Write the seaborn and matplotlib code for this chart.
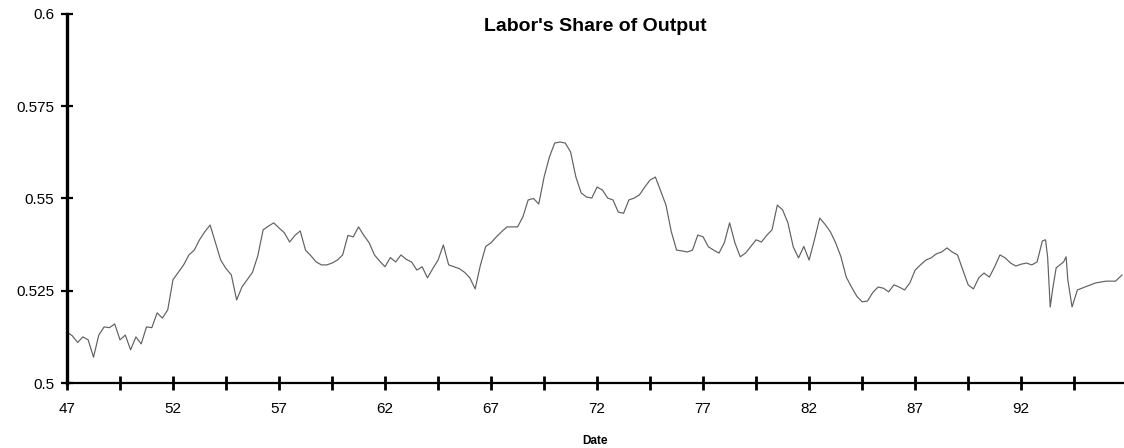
import numpy as np
import pandas as pd
import matplotlib
matplotlib.use("Agg")
import matplotlib.pyplot as plt
import seaborn as sns

# dane (rok w zapisie dziesietnym, udzial pracy w produkcie)
daty = [
    47.00, 47.25, 47.50, 47.75, 48.00, 48.25, 48.50, 48.75, 49.00, 49.25, 49.50, 49.75,
    50.00, 50.25, 50.50, 50.75, 51.00, 51.25, 51.50, 51.75, 52.00, 52.25, 52.50, 52.75,
    53.00, 53.25, 53.50, 53.75, 54.00, 54.25, 54.50, 54.75, 55.00, 55.25, 55.50, 55.75,
    56.00, 56.25, 56.50, 56.75, 57.00, 57.25, 57.50, 57.75, 58.00, 58.25, 58.50, 58.75,
    59.00, 59.25, 59.50, 59.75, 60.00, 60.25, 60.50, 60.75, 61.00, 61.25, 61.50, 61.75,
    62.00, 62.25, 62.50, 62.75, 63.00, 63.25, 63.50, 63.75, 64.00, 64.25, 64.50, 64.75,
    65.00, 65.25, 65.50, 65.75, 66.00, 66.25, 66.50, 66.75, 67.00, 67.25, 67.50, 67.75,
    68.00, 68.25, 68.50, 68.75, 69.00, 69.25, 69.50, 69.75, 70.00, 70.25, 70.50, 70.75,
    71.00, 71.25, 71.50, 71.75, 72.00, 72.25, 72.50, 72.75, 73.00, 73.25, 73.50, 73.75,
    74.00, 74.25, 74.50, 74.75, 75.00, 75.25, 75.50, 75.75, 76.00, 76.25, 76.50, 76.75,
    77.00, 77.25, 77.50, 77.75, 78.00, 78.25, 78.50, 78.75, 79.00, 79.25, 79.50, 79.75,
    80.00, 80.25, 80.50, 80.75, 81.00, 81.25, 81.50, 81.75, 82.00, 82.25, 82.50, 82.75,
    83.00, 83.25, 83.50, 83.75, 84.00, 84.25, 84.50, 84.75, 85.00, 85.25, 85.50, 85.75,
    86.00, 86.25, 86.50, 86.75, 87.00, 87.25, 87.50, 87.75, 88.00, 88.25, 88.50, 88.75,
    89.00, 89.25, 89.50, 89.75, 90.00, 90.25, 90.50, 90.75, 91.00, 91.25, 91.50, 91.75,
    92.00, 92.25, 92.50, 92.75, 93.00, 93.15, 93.25, 93.37, 93.50, 93.65, 94.00, 94.12,
    94.20, 94.40, 94.65, 95.00, 95.50, 96.00, 96.45, 96.76,
]
udzial = [
    0.5138, 0.5128, 0.5110, 0.5125, 0.5117, 0.5070, 0.5130, 0.5152, 0.5150, 0.5160, 0.5117, 0.5130,
    0.5090, 0.5125, 0.5106, 0.5152, 0.5150, 0.5190, 0.5176, 0.5198, 0.5280, 0.5300, 0.5320, 0.5347,
    0.5360, 0.5388, 0.5410, 0.5428, 0.5380, 0.5333, 0.5310, 0.5293, 0.5225, 0.5260, 0.5280, 0.5300,
    0.5345, 0.5415, 0.5425, 0.5434, 0.5420, 0.5407, 0.5382, 0.5400, 0.5412, 0.5360, 0.5345, 0.5328,
    0.5320, 0.5320, 0.5325, 0.5333, 0.5347, 0.5400, 0.5396, 0.5423, 0.5400, 0.5380, 0.5347, 0.5330,
    0.5315, 0.5340, 0.5328, 0.5347, 0.5335, 0.5328, 0.5306, 0.5315, 0.5285, 0.5310, 0.5333, 0.5374,
    0.5320, 0.5315, 0.5310, 0.5300, 0.5285, 0.5255, 0.5320, 0.5370, 0.5380, 0.5396, 0.5410, 0.5423,
    0.5423, 0.5423, 0.5450, 0.5496, 0.5500, 0.5485, 0.5558, 0.5612, 0.5650, 0.5653, 0.5650, 0.5626,
    0.5558, 0.5515, 0.5504, 0.5501, 0.5531, 0.5523, 0.5501, 0.5496, 0.5463, 0.5460, 0.5496, 0.5501,
    0.5510, 0.5531, 0.5550, 0.5558, 0.5520, 0.5482, 0.5410, 0.5360, 0.5358, 0.5355, 0.5360, 0.5401,
    0.5396, 0.5369, 0.5360, 0.5352, 0.5380, 0.5434, 0.5380, 0.5342, 0.5352, 0.5370, 0.5388, 0.5382,
    0.5400, 0.5415, 0.5482, 0.5469, 0.5434, 0.5369, 0.5339, 0.5370, 0.5333, 0.5388, 0.5447, 0.5430,
    0.5410, 0.5380, 0.5342, 0.5287, 0.5260, 0.5235, 0.5220, 0.5222, 0.5245, 0.5260, 0.5257, 0.5247,
    0.5266, 0.5260, 0.5252, 0.5271, 0.5306, 0.5320, 0.5333, 0.5339, 0.5350, 0.5355, 0.5366, 0.5355,
    0.5347, 0.5306, 0.5266, 0.5255, 0.5285, 0.5298, 0.5287, 0.5315, 0.5347, 0.5339, 0.5325, 0.5317,
    0.5322, 0.5325, 0.5320, 0.5328, 0.5385, 0.5388, 0.5340, 0.5206, 0.5260, 0.5312, 0.5328, 0.5342,
    0.5280, 0.5206, 0.5252, 0.5260, 0.5271, 0.5276, 0.5276, 0.5293,
]

y_ticki = [0.5, 0.525, 0.55, 0.575, 0.6]
y_etykiety = ["0.5", "0.525", "0.55", "0.575", "0.6"]
x_ticki = [47, 52, 57, 62, 67, 72, 77, 82, 87, 92]
x_etykiety = ["47", "52", "57", "62", "67", "72", "77", "82", "87", "92"]
x_ticki_male = [49.5, 54.5, 59.5, 64.5, 69.5, 74.5, 79.5, 84.5, 89.5, 94.5]

dane = pd.DataFrame({"Date": daty, "share": udzial})

sns.set_style("ticks")
plt.rcParams["font.family"] = ["Liberation Sans", "DejaVu Sans"]
plt.rcParams["text.color"] = "black"

fig = plt.figure(figsize=(11.24, 4.48), dpi=100)
ax = fig.add_axes([0.0596, 0.145, 0.9404, 0.824])

sns.lineplot(data=dane, x="Date", y="share", ax=ax, color="#606060", linewidth=0.85)

ax.set_xlim(47, 96.85)
ax.set_ylim(0.5, 0.6)
ax.set_yticks(y_ticki)
ax.set_yticklabels(y_etykiety)
ax.set_xticks(x_ticki)
ax.set_xticklabels(x_etykiety)
ax.set_xticks(x_ticki_male, minor=True)

for s in ["top", "right"]:
    ax.spines[s].set_visible(False)
ax.spines["left"].set_linewidth(2.4)
ax.spines["bottom"].set_linewidth(1.6)
ax.spines["left"].set_color("black")
ax.spines["bottom"].set_color("black")

ax.tick_params(axis="y", which="major", left=True, direction="inout", length=8, width=1.6,
               labelsize=11, pad=5, colors="black")
ax.tick_params(axis="y", which="minor", left=False)
ax.tick_params(axis="x", which="both", bottom=True, direction="inout", length=10, width=2.0,
               labelsize=11, pad=9, colors="black")

ax.set_ylabel("")
ax.set_xlabel("Date", fontsize=8.5, fontweight="bold", labelpad=13, color="black")
ax.text(0.5, 0.99, "Labor's Share of Output", transform=ax.transAxes,
        ha="center", va="top", fontsize=14, fontweight="bold", color="black")

fig.savefig("out.png", dpi=100)
plt.close(fig)
